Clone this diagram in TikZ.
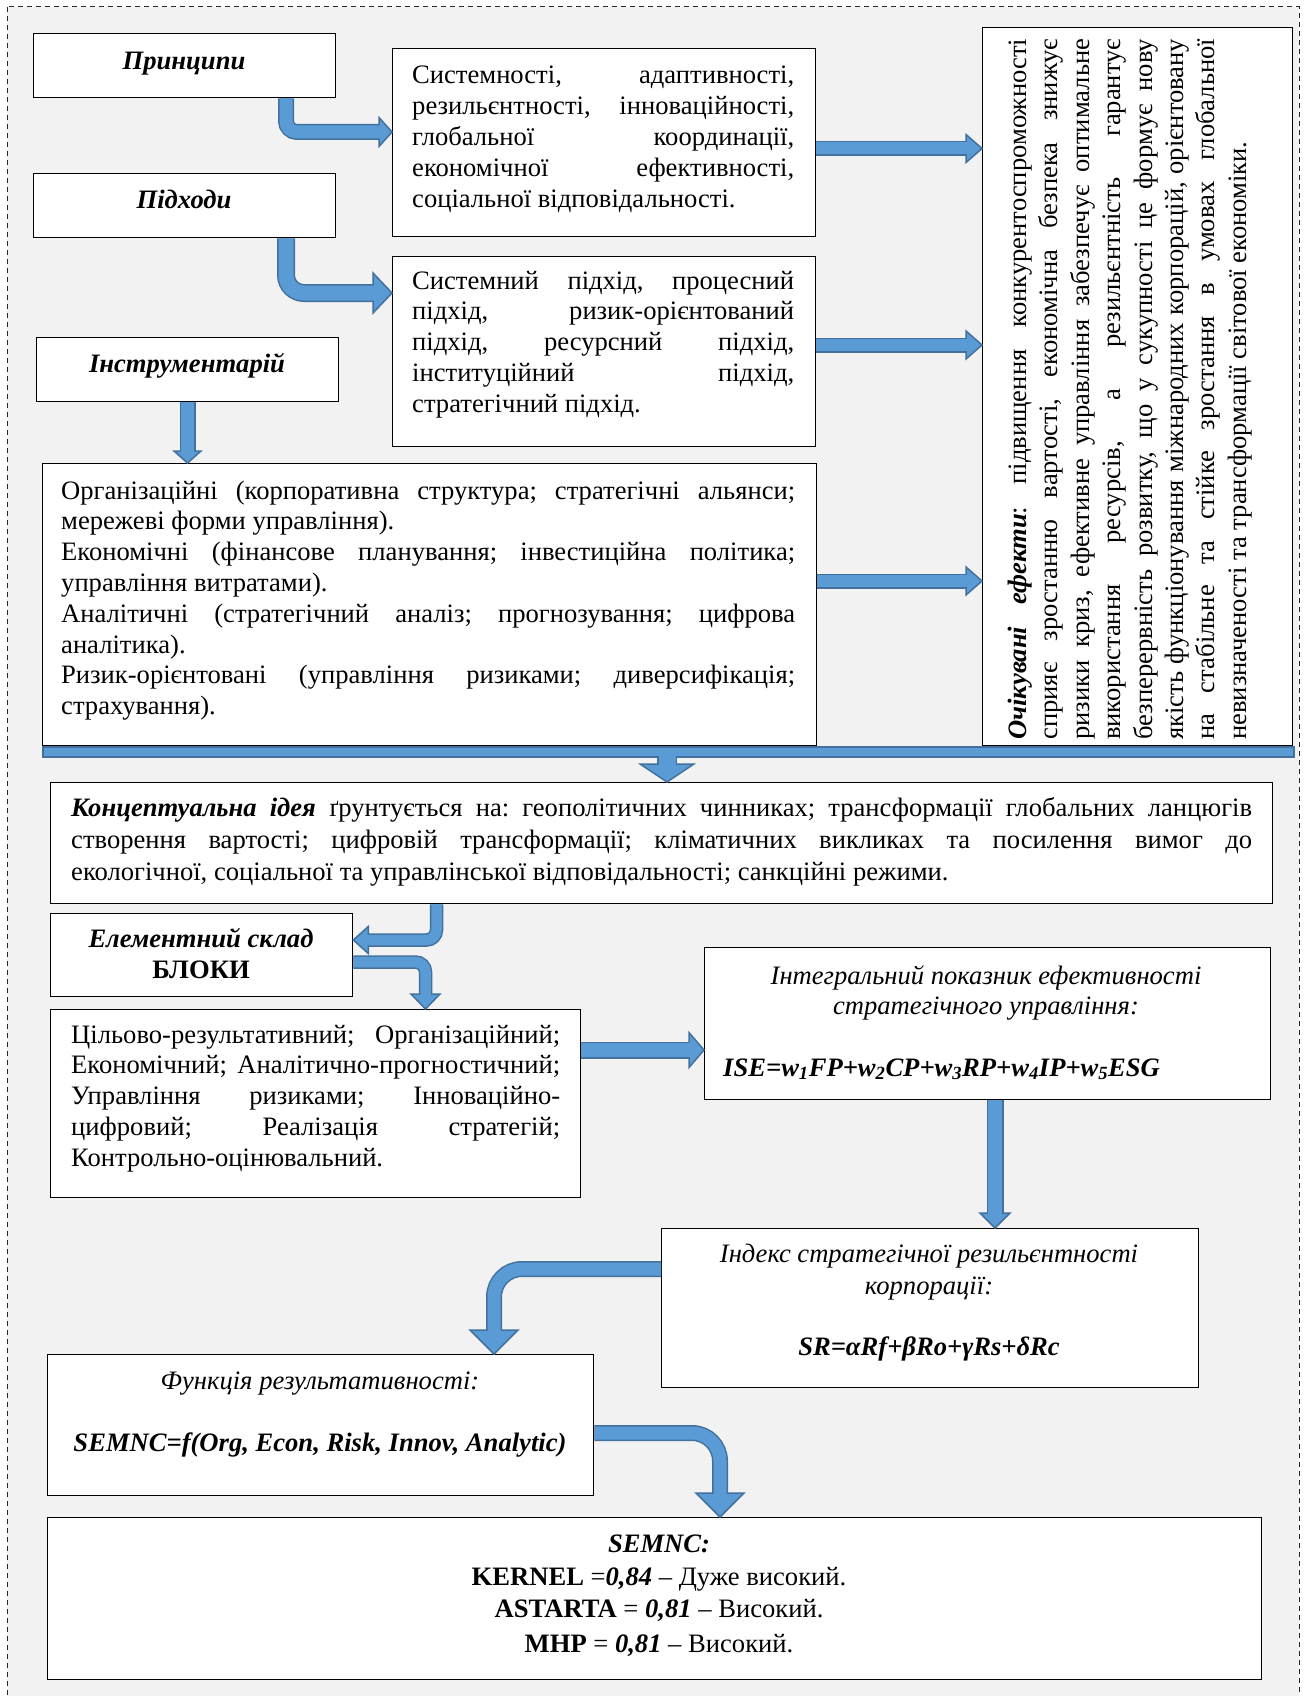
\documentclass[tikz,border=0pt]{standalone}
\usepackage{fontspec}
\setmainfont{Liberation Serif}
\usetikzlibrary{calc}

\definecolor{bgfill}{HTML}{F2F2F2}
\definecolor{arrfill}{HTML}{5B9BD5}
\definecolor{arrline}{HTML}{41719C}

\frenchspacing
\newcommand\bodyfont{\fontsize{26.6}{30.8}\selectfont}
\newcommand\bfit[1]{\textbf{\textit{#1}}}
% a block of lines of given width; first baseline is the reference point
\newcommand\lines[2]{\vtop{\hsize=#1\relax\parindent=0pt #2}}
% justified line / last (natural) line of a paragraph
\newcommand\jl[1]{\hbox to\hsize{#1}}
\newcommand\lastln[1]{\hbox{#1}}
% arrow heads: tip, length, half width
\newcommand\headR[3]{\draw[ahead] (#1) -- ++(-#2,#3) -- ++(0,-2*#3) -- cycle;}
\newcommand\headL[3]{\draw[ahead] (#1) -- ++(#2,#3) -- ++(0,-2*#3) -- cycle;}
\newcommand\headD[3]{\draw[ahead] (#1) -- ++(#3,-#2) -- ++(-2*#3,0) -- cycle;}

\tikzset{
  box/.style={draw=black, line width=1.3pt, fill=white, inner sep=0pt, anchor=north west},
  txt/.style={inner sep=0pt, anchor=base west, font=\bodyfont},
  ctxt/.style={inner sep=0pt, anchor=base, font=\bodyfont},
  shaftout/.style={draw=arrline, line cap=butt},
  shaftin/.style={draw=arrfill, line cap=butt},
  ahead/.style={fill=arrfill, draw=arrline, line width=1.5pt, line join=miter},
}

\begin{document}
\begin{tikzpicture}[x=1pt, y=-1pt]
\useasboundingbox (0,0) rectangle (1304,1696);
\fill[white] (0,0) rectangle (1304,1696);
\filldraw[fill=bgfill, draw=black!85, line width=1pt, dash pattern=on 5pt off 4pt] (7,7) rectangle (1299,1720);

% ---------- boxes ----------
\node[box, minimum width=302pt, minimum height=64pt] (prin) at (33,33) {};
\node[box, minimum width=302pt, minimum height=64pt] (pidh) at (33,173) {};
\node[box, minimum width=302pt, minimum height=64pt] (instr) at (36,337) {};
\node[box, minimum width=423pt, minimum height=188pt] (sys) at (392,48) {};
\node[box, minimum width=423pt, minimum height=190pt] (appr) at (392,256) {};
\node[box, minimum width=310pt, minimum height=718pt] (eff) at (982,27) {};
\node[box, minimum width=774pt, minimum height=282pt] (org) at (42,463) {};
\node[box, fill=arrfill, draw=arrline, line width=1.5pt, minimum width=1251pt, minimum height=10pt] (bar) at (42,746) {};
\node[box, minimum width=1222pt, minimum height=121pt] (idea) at (50,782) {};
\node[box, minimum width=302pt, minimum height=83pt] (elem) at (50,913) {};
\node[box, minimum width=530pt, minimum height=188pt] (blocks) at (50,1009) {};
\node[box, minimum width=566pt, minimum height=152pt] (ise) at (704,947) {};
\node[box, minimum width=537pt, minimum height=159pt] (sr) at (661,1228) {};
\node[box, minimum width=546pt, minimum height=141pt] (func) at (47,1354) {};
\node[box, minimum width=1214pt, minimum height=162pt] (semnc) at (47,1517) {};

% ---------- texts ----------
\node[ctxt] (tprin) at (184,69.5) {\bfit{Принципи}};
\node[ctxt] (tpidh) at (184,209) {\bfit{Підходи}};
\node[ctxt] (tinstr) at (187,372) {\bfit{Інструментарій}};

\node[txt] (tsys) at (412,84) {\lines{382pt}{%
\jl{Системності, адаптивності,}
\jl{резильєнтності, інноваційності,}
\jl{глобальної координації,}
\jl{економічної ефективності,}
\lastln{соціальної відповідальності.}}};

\node[txt] (tappr) at (412,289) {\lines{382pt}{%
\jl{Системний підхід, процесний}
\jl{підхід, ризик-орієнтований}
\jl{підхід, ресурсний підхід,}
\jl{інституційний підхід,}
\lastln{стратегічний підхід.}}};

\node[txt] (torg) at (61,499) {\lines{734pt}{%
\jl{Організаційні (корпоративна структура; стратегічні альянси;}
\lastln{мережеві форми управління).}
\jl{Економічні (фінансове планування; інвестиційна політика;}
\lastln{управління витратами).}
\jl{Аналітичні (стратегічний аналіз; прогнозування; цифрова}
\lastln{аналітика).}
\jl{Ризик-орієнтовані (управління ризиками; диверсифікація;}
\lastln{страхування).}}};

\node[txt, rotate=90, font=\fontsize{26.6}{31.4}\selectfont] (teff) at (1026.5,740) {\lines{701pt}{%
\jl{\bfit{Очікувані ефекти}: підвищення конкурентоспроможності}
\jl{сприяє зростанню вартості, економічна безпека знижує}
\jl{ризики криз, ефективне управління забезпечує оптимальне}
\jl{використання ресурсів, а резильєнтність гарантує}
\jl{безперервність розвитку, що у сукупності це формує нову}
\jl{якість функціонування міжнародних корпорацій, орієнтовану}
\jl{на стабільне та стійке зростання в умовах глобальної}
\lastln{невизначеності та трансформації світової економіки.}}};

\node[txt, font=\fontsize{26.6}{32}\selectfont] (tidea) at (71,816) {\lines{1181pt}{%
\jl{\bfit{Концептуальна ідея} ґрунтується на: геополітичних чинниках; трансформації глобальних ланцюгів}
\jl{створення вартості; цифровій трансформації; кліматичних викликах та посилення вимог до}
\lastln{екологічної, соціальної та управлінської відповідальності; санкційні режими.}}};

\node[ctxt] (telem) at (201,947) {\bfit{Елементний склад}};
\node[ctxt] (tblk) at (201,978) {\textbf{БЛОКИ}};

\node[txt] (tblocks) at (71,1043) {\lines{489pt}{%
\jl{Цільово-результативний; Організаційний;}
\jl{Економічний; Аналітично-прогностичний;}
\jl{Управління ризиками; Інноваційно-}
\jl{цифровий; Реалізація стратегій;}
\lastln{Контрольно-оцінювальний.}}};

\node[ctxt] (tise1) at (986,984) {\textit{Інтегральний показник ефективності}};
\node[ctxt] (tise2) at (986,1014) {\textit{стратегічного управління:}};
\node[txt] (fise) at (723,1076) {\bfit{ISE=w\textsubscript{1}FP+w\textsubscript{2}CP+w\textsubscript{3}RP+w\textsubscript{4}IP+w\textsubscript{5}ESG}};

\node[ctxt] (tsr1) at (929,1262) {\textit{Індекс стратегічної резильєнтності}};
\node[ctxt] (tsr2) at (929,1294) {\textit{корпорації:}};
\node[ctxt] (fsr) at (929,1355) {\bfit{SR=αRf+βRo+γRs+δRc}};

\node[ctxt] (tfunc) at (320,1389) {\textit{Функція результативності:}};
\node[ctxt] (ffunc) at (320,1451) {\bfit{SEMNC=f(Org, Econ, Risk, Innov, Analytic)}};

\node[ctxt] (ts1) at (659,1552) {\bfit{SEMNC:}};
\node[ctxt] (ts2) at (659,1585) {\textbf{KERNEL} =\bfit{0,84} – Дуже високий.};
\node[ctxt] (ts3) at (659,1617) {\textbf{ASTARTA} = \bfit{0,81} – Високий.};
\node[ctxt] (ts4) at (659,1652) {\textbf{MHP} = \bfit{0,81} – Високий.};

% ---------- block arrows ----------
% principles -> principle list
\coordinate (a1s) at ($(prin.south west)+(253,0)$);
\coordinate (a1t) at ($(sys.north west)+(0,84)$);
\draw[shaftout, line width=16pt, rounded corners=11pt] (a1s) |- ($(a1t)+(-13,0)$);
\headR{a1t}{13}{14.5}
\draw[shaftin, line width=13pt, rounded corners=11pt] (a1s) |- ($(a1t)+(-11,0)$);

% approaches -> approach list
\coordinate (a2s) at ($(pidh.south west)+(253,0)$);
\coordinate (a2t) at ($(appr.north west)+(0,37)$);
\draw[shaftout, line width=18pt, rounded corners=18pt] (a2s) |- ($(a2t)+(-19,0)$);
\headR{a2t}{19}{20}
\draw[shaftin, line width=15pt, rounded corners=18pt] (a2s) |- ($(a2t)+(-17,0)$);

% toolkit -> tool groups
\coordinate (a3s) at ($(instr.south west)+(151.5,0)$);
\coordinate (a3t) at (a3s |- org.north);
\draw[shaftout, line width=16pt] (a3s) -- ($(a3t)+(0,-12)$);
\headD{a3t}{12}{13.5}
\draw[shaftin, line width=13pt] (a3s) -- ($(a3t)+(0,-10)$);

% lists -> expected effects
\coordinate (a4s) at ($(sys.north east)+(0,100.5)$);
\coordinate (a4t) at (eff.west |- a4s);
\coordinate (a5s) at ($(appr.north east)+(0,89)$);
\coordinate (a5t) at (eff.west |- a5s);
\coordinate (a6s) at ($(org.north east)+(0,118)$);
\coordinate (a6t) at (eff.west |- a6s);
\foreach \s/\t in {a4s/a4t, a5s/a5t, a6s/a6t}{
  \draw[shaftout, line width=15pt] (\s) -- ($(\t)+(-16,0)$);
  \headR{\t}{16}{14}
  \draw[shaftin, line width=12pt] (\s) -- ($(\t)+(-14,0)$);
}

% collecting bar -> conceptual idea
\coordinate (a7s) at ($(bar.south west)+(625,0)$);
\coordinate (a7t) at (a7s |- idea.north);
\draw[shaftout, line width=20pt] ($(a7s)+(0,-1)$) -- ($(a7t)+(0,-18)$);
\headD{a7t}{18}{27}
\draw[shaftin, line width=17pt] ($(a7s)+(0,-2)$) -- ($(a7t)+(0,-16)$);

% conceptual idea -> element composition
\coordinate (a8s) at ($(idea.south west)+(386.5,0)$);
\coordinate (a8t) at ($(elem.north east)+(0,27)$);
\draw[shaftout, line width=13.5pt, rounded corners=10pt] (a8s) |- ($(a8t)+(15,0)$);
\headL{a8t}{15}{13.5}
\draw[shaftin, line width=10.5pt, rounded corners=10pt] (a8s) |- ($(a8t)+(13,0)$);

% element composition -> blocks
\coordinate (a9s) at ($(elem.north east)+(0,49)$);
\coordinate (a9t) at ($(blocks.north west)+(375.5,0)$);
\draw[shaftout, line width=13.5pt, rounded corners=10pt] (a9s) -| ($(a9t)+(0,-15)$);
\headD{a9t}{15}{14.5}
\draw[shaftin, line width=10.5pt, rounded corners=10pt] (a9s) -| ($(a9t)+(0,-13)$);

% blocks -> integral index
\coordinate (a10s) at ($(blocks.north east)+(0,41)$);
\coordinate (a10t) at (ise.west |- a10s);
\draw[shaftout, line width=17pt] (a10s) -- ($(a10t)+(-15,0)$);
\headR{a10t}{15}{17.5}
\draw[shaftin, line width=14pt] (a10s) -- ($(a10t)+(-13,0)$);

% integral index -> resilience index
\coordinate (a11s) at ($(ise.south west)+(291,0)$);
\coordinate (a11t) at (a11s |- sr.north);
\draw[shaftout, line width=17pt] (a11s) -- ($(a11t)+(0,-15)$);
\headD{a11t}{15}{15}
\draw[shaftin, line width=14pt] (a11s) -- ($(a11t)+(0,-13)$);

% resilience index -> performance function
\coordinate (a12s) at ($(sr.north west)+(0,41)$);
\coordinate (a12t) at ($(func.north west)+(447,0)$);
\draw[shaftout, line width=16pt, rounded corners=28pt] (a12s) -| ($(a12t)+(0,-24)$);
\headD{a12t}{24}{24}
\draw[shaftin, line width=13pt, rounded corners=28pt] (a12s) -| ($(a12t)+(0,-22)$);

% performance function -> SEMNC values
\coordinate (a13s) at ($(func.north east)+(0,79)$);
\coordinate (a13t) at ($(semnc.north west)+(673,0)$);
\draw[shaftout, line width=16pt, rounded corners=28pt] (a13s) -| ($(a13t)+(0,-24)$);
\headD{a13t}{24}{24}
\draw[shaftin, line width=13pt, rounded corners=28pt] (a13s) -| ($(a13t)+(0,-22)$);
\end{tikzpicture}
\end{document}
